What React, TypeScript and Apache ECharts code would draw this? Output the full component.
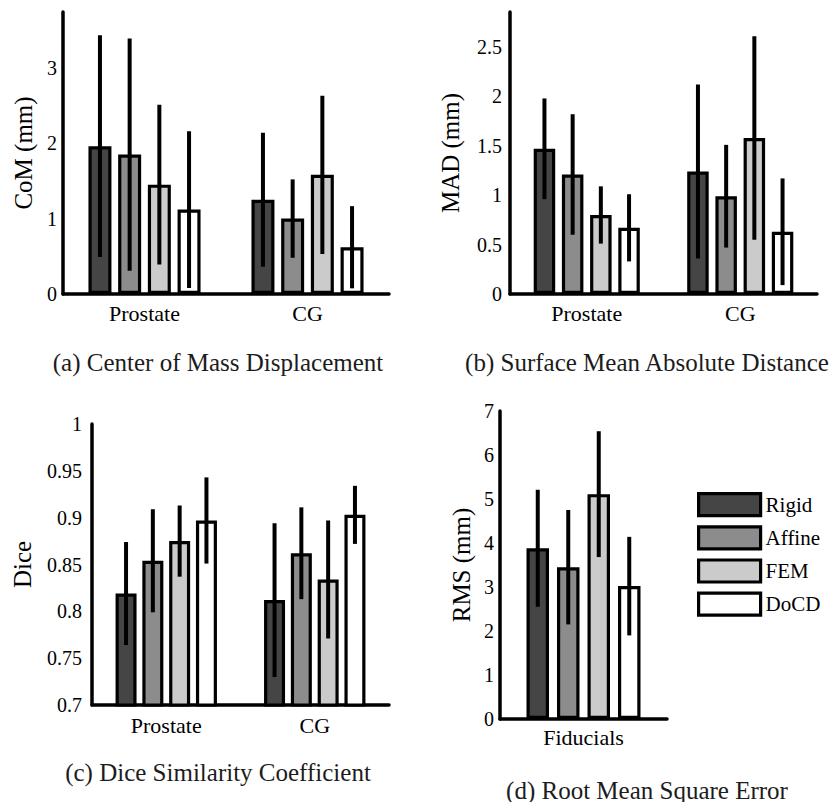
import React, { useEffect, useRef } from "react";
import * as echarts from "echarts";

const categories = ["Prostate", "CG"];
const rmsCategories = ["Fiducials"];
const methods = ["Rigid", "Affine", "FEM", "DoCD"];
const methodColors = ["#454545", "#8c8c8c", "#cbcbcb", "#ffffff"];

// rows: Rigid, Affine, FEM, DoCD ; columns: Prostate, CG
const comMean = [[1.96, 1.25], [1.85, 1.0], [1.45, 1.58], [1.12, 0.62]];
const comStd = [[1.47, 0.89], [1.54, 0.52], [1.06, 1.05], [1.04, 0.545]];

const madMean = [[1.47, 1.24], [1.21, 0.99], [0.8, 1.58], [0.67, 0.63]];
const madStd = [[0.51, 0.88], [0.61, 0.52], [0.29, 1.03], [0.34, 0.54]];

const diceMean = [[0.819, 0.812], [0.854, 0.862], [0.875, 0.834], [0.897, 0.903]];
const diceStd = [[0.055, 0.082], [0.055, 0.049], [0.038, 0.063], [0.046, 0.031]];

const rmsMean = [[3.88], [3.45], [5.11], [3.02]];
const rmsStd = [[1.33], [1.3], [1.43], [1.12]];

const captions = [
  "(a) Center of Mass Displacement",
  "(b) Surface Mean Absolute Distance",
  "(c) Dice Similarity Coefficient",
  "(d) Root Mean Square Error",
];

const SERIF = "'Liberation Serif', 'DejaVu Serif', serif";

function panelSeries(g: number, means: number[][], stds: number[][], barWidth: number, spacing: number) {
  const out: any[] = [];
  const gapPct = ((spacing - barWidth) / barWidth) * 100 + "%";
  methods.forEach((m, i) => {
    out.push({
      type: "bar",
      name: m,
      xAxisIndex: g,
      yAxisIndex: g,
      data: means[i],
      barWidth,
      barGap: gapPct,
      itemStyle: { color: methodColors[i], borderColor: "#000", borderWidth: 3.2 },
      emphasis: { disabled: true },
      z: 2,
    });
  });
  const errData: number[][] = [];
  means.forEach((row, i) => row.forEach((v, c) => errData.push([c, i, v, stds[i][c]])));
  out.push({
    type: "custom",
    xAxisIndex: g,
    yAxisIndex: g,
    data: errData,
    encode: { x: 0, y: 2 },
    z: 5,
    renderItem: (params: any, api: any) => {
      const c = api.value(0);
      const i = api.value(1);
      const mean = api.value(2);
      const sd = api.value(3);
      const top = api.coord([c, mean + sd]);
      const bot = api.coord([c, mean - sd]);
      const x = top[0] + (i - 1.5) * spacing;
      return {
        type: "line",
        shape: { x1: x, y1: top[1], x2: x, y2: bot[1] },
        style: { stroke: "#000", lineWidth: 4 },
      };
    },
  });
  return out;
}

function xAxisFor(g: number, data: string[], margin: number) {
  return {
    type: "category",
    gridIndex: g,
    data,
    axisLine: { show: true, onZero: false, lineStyle: { color: "#000", width: 3.5 } },
    axisTick: { show: false },
    axisLabel: { color: "#000", fontFamily: SERIF, fontSize: 22, margin },
    splitLine: { show: false },
  };
}

function yAxisFor(
  g: number,
  name: string,
  min: number,
  max: number,
  interval: number,
  nameGap: number,
  margin: number,
  showMax: boolean
) {
  return {
    type: "value",
    gridIndex: g,
    min,
    max,
    interval,
    name,
    nameLocation: "middle",
    nameGap,
    nameTextStyle: { color: "#000", fontFamily: SERIF, fontSize: 25 },
    axisLine: { show: true, lineStyle: { color: "#000", width: 3.5 } },
    axisTick: { show: false },
    splitLine: { show: false },
    axisLabel: {
      color: "#000",
      fontFamily: SERIF,
      fontSize: 20,
      margin,
      showMaxLabel: showMax,
      formatter: (v: number) => String(Math.round(v * 1000) / 1000),
    },
  };
}

export default function App() {
  const ref = useRef<HTMLDivElement>(null);
  useEffect(() => {
    document.body.style.margin = "0";
    const chart = echarts.init(ref.current!, null, { renderer: "svg" });
    const capStyle = (t: string) => ({
      text: t,
      align: "center",
      verticalAlign: "middle",
      fill: "#1c1c1c",
      fontFamily: SERIF,
      fontSize: 25,
    });
    const option: any = {
      animation: false,
      backgroundColor: "#fff",
      grid: [
        { left: 63, right: 448, top: 12, bottom: 508 },
        { left: 510, right: 20, top: 12, bottom: 508 },
        { left: 92, right: 448, top: 424, bottom: 97 },
        { left: 500, right: 170, top: 411, bottom: 83 },
      ],
      xAxis: [
        xAxisFor(0, categories, 8),
        xAxisFor(1, categories, 8),
        xAxisFor(2, categories, 9),
        xAxisFor(3, rmsCategories, 7),
      ],
      yAxis: [
        yAxisFor(0, "CoM (mm)", 0, 3.74, 1, 27, 6, false),
        yAxisFor(1, "MAD (mm)", 0, 2.855, 0.5, 47, 8, false),
        yAxisFor(2, "Dice", 0.7, 1.0, 0.05, 57, 10, true),
        yAxisFor(3, "RMS (mm)", 0, 7, 1, 26, 6, true),
      ],
      legend: {
        orient: "vertical",
        left: 697,
        top: 492,
        padding: 0,
        itemWidth: 62,
        itemHeight: 22,
        itemGap: 8,
        data: methods,
        icon: "rect",
        selectedMode: false,
        itemStyle: { borderColor: "#000", borderWidth: 3.2 },
        textStyle: { color: "#000", fontFamily: SERIF, fontSize: 21 },
      },
      graphic: [
        { type: "text", x: 218, y: 362, style: capStyle(captions[0]) },
        { type: "text", x: 647, y: 362, style: capStyle(captions[1]) },
        { type: "text", x: 218, y: 772, style: capStyle(captions[2]) },
        { type: "text", x: 647, y: 790, style: capStyle(captions[3]) },
      ],
      series: [
        ...panelSeries(0, comMean, comStd, 23, 29.7),
        ...panelSeries(1, madMean, madStd, 21.5, 28.2),
        ...panelSeries(2, diceMean, diceStd, 21, 26.8),
        ...panelSeries(3, rmsMean, rmsStd, 22.5, 30.5),
      ],
    };
    chart.setOption(option);
    return () => chart.dispose();
  }, []);
  return <div ref={ref} style={{ width: 837, height: 802 }} />;
}
